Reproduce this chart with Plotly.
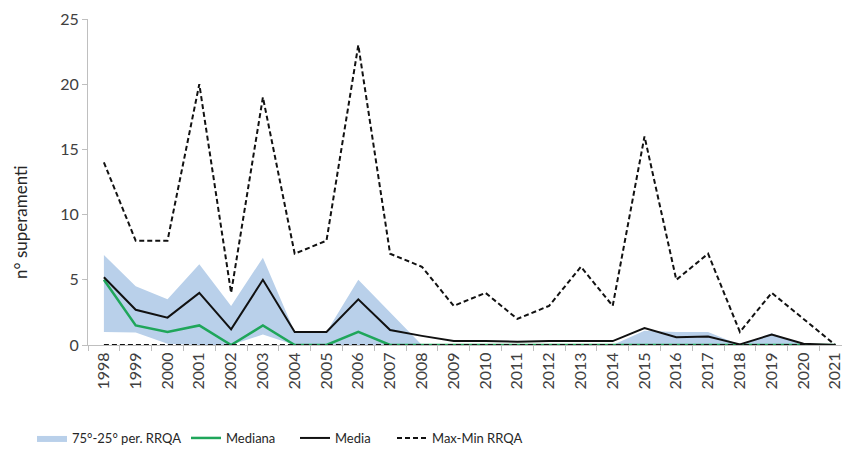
import plotly.graph_objects as go

years = [str(y) for y in range(1998, 2022)]
max_rrqa = [14, 8, 8, 20, 4, 19, 7, 8, 23, 7, 6, 3, 4, 2, 3, 6, 3, 16, 5, 7, 1, 4, 2, 0]
min_rrqa = [0] * 24
media = [5.2, 2.7, 2.1, 4.0, 1.2, 5.0, 1.0, 1.0, 3.5, 1.15, 0.7, 0.3, 0.3, 0.25, 0.3, 0.3, 0.3,
         1.3, 0.6, 0.65, 0.05, 0.8, 0.1, 0.0]
mediana = [5.0, 1.5, 1.0, 1.5, 0, 1.5, 0, 0, 1.0, 0, 0, 0, 0, 0, 0, 0, 0, 0, 0, 0, 0, 0, 0, 0]
p75 = [6.9, 4.5, 3.5, 6.2, 3.0, 6.7, 1.0, 1.0, 5.0, 2.5, 0, 0, 0, 0, 0, 0, 0, 1.1, 1.0, 1.0, 0, 0.9, 0, 0]
p25 = [1.0, 0.95, 0.1, 0, 0, 0.8, 0, 0, 0, 0, 0, 0, 0, 0, 0, 0, 0, 0, 0, 0, 0, 0, 0, 0]

FONT = "Lato"
BLUE = "#b9d0ea"
GREEN = "#1fa65a"

fig = go.Figure()
fig.add_trace(go.Scatter(x=years, y=p25, mode="lines", line=dict(width=0, color=BLUE),
                         showlegend=False, hoverinfo="skip"))
fig.add_trace(go.Scatter(x=years, y=p75, mode="lines", line=dict(width=0, color=BLUE),
                         fill="tonexty", fillcolor=BLUE, name="75°-25° per. RRQA", legend="legend"))
fig.add_trace(go.Scatter(x=years, y=mediana, mode="lines", line=dict(width=2.5, color=GREEN),
                         name="Mediana", legend="legend2"))
fig.add_trace(go.Scatter(x=years, y=media, mode="lines", line=dict(width=2, color="#111111"),
                         name="Media", legend="legend3"))
fig.add_trace(go.Scatter(x=years, y=max_rrqa, mode="lines",
                         line=dict(width=2, color="#111111", dash="5px,3px"),
                         name="Max-Min RRQA", legend="legend4", legendgroup="mm"))
fig.add_trace(go.Scatter(x=years, y=min_rrqa, mode="lines",
                         line=dict(width=2, color="#111111", dash="5px,3px"),
                         name="Max-Min RRQA", showlegend=False, legendgroup="mm"))

# plot area: x 88..842, y 19..345
W, H = 842, 451
L, T, B = 88, 19, 106
pw = W - L
ph = H - T - B

def px(x):
    return (x - L) / pw

def py(y):
    return (H - B - y) / ph

lfont = dict(family=FONT, size=13, color="#262626")
common = dict(orientation="h", yanchor="middle", xanchor="left", y=1 - 438 / H,
              xref="container", yref="container",
              font=lfont, bgcolor="rgba(0,0,0,0)", itemwidth=30)

fig.update_layout(
    width=W, height=H,
    margin=dict(l=L, r=0, t=T, b=B, autoexpand=False),
    plot_bgcolor="white", paper_bgcolor="white",
    font=dict(family=FONT, size=15, color="#404040"),
    xaxis=dict(type="category", range=[-0.5, -0.5 + pw / 31.8], automargin=False,
               showline=True, linecolor="#bfbfbf", linewidth=1,
               ticks="outside", ticklen=5, tickcolor="#bfbfbf", tickson="boundaries",
               tickangle=-90, showgrid=False, zeroline=False,
               tickfont=dict(family=FONT, size=16, color="#404040")),
    yaxis=dict(range=[0, 25], tickvals=[0, 5, 10, 15, 20, 25], automargin=False,
               showline=True, linecolor="#bfbfbf", linewidth=1,
               ticks="outside", ticklen=5, tickcolor="#bfbfbf",
               showgrid=False, zeroline=False,
               tickfont=dict(family=FONT, size=16, color="#404040")),
    legend=dict(x=32 / W, **common),
    legend2=dict(x=186 / W, **common),
    legend3=dict(x=295 / W, **common),
    legend4=dict(x=392 / W, **common),
    annotations=[dict(text="n° superamenti", xref="paper", yref="paper",
                      x=px(20), y=py(222), xanchor="center", yanchor="middle",
                      textangle=-90, showarrow=False,
                      font=dict(family=FONT, size=17, color="#262626"))],
)

fig.write_html("out.html", config={"displayModeBar": False},
               post_script="document.body.style.margin='0px';document.body.style.overflow='hidden';")
